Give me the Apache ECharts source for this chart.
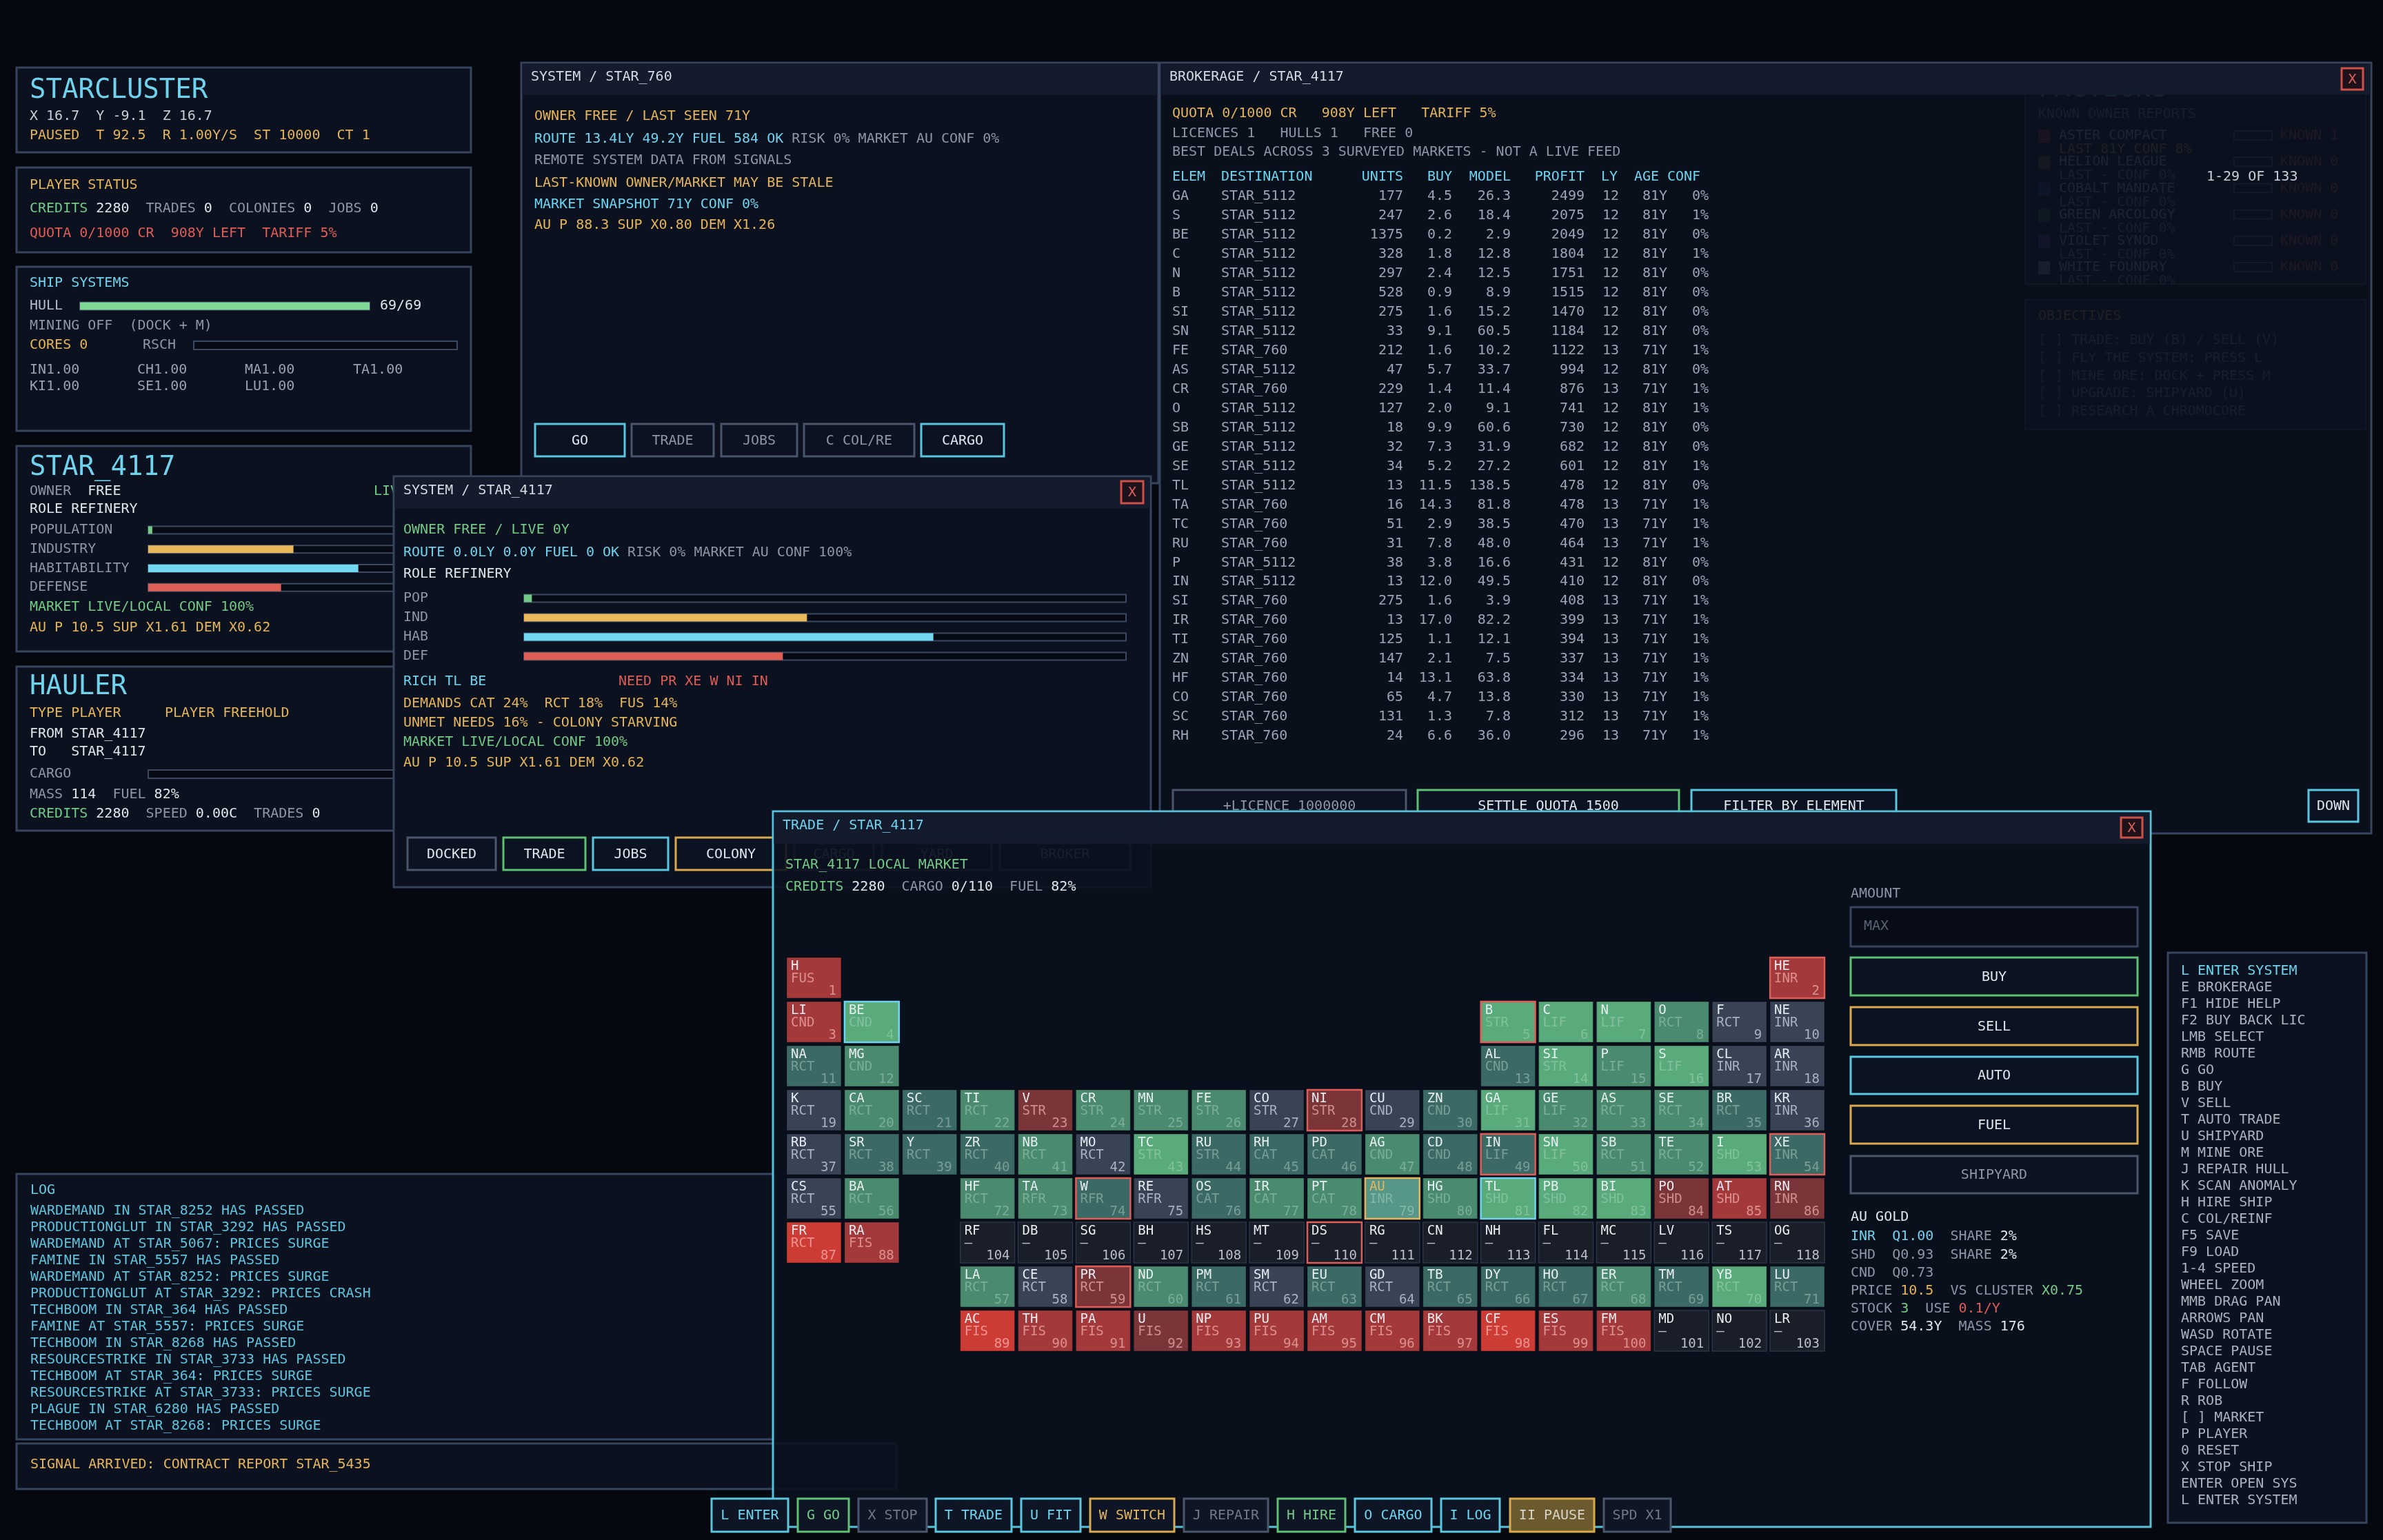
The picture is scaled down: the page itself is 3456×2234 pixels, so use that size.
<!DOCTYPE html>
<html>
<head>
<meta charset="utf-8">
<script src="https://cdn.jsdelivr.net/npm/echarts/dist/echarts.min.js"></script>
<style>
html,body{margin:0;padding:0;background:#05080f;overflow:hidden}
#chart{width:3456px;height:2234px}
</style>
</head>
<body>
<div id="chart"></div>
<script>
// ================= DATA =================
const hullValue = [69];
const hullMax = 69;
const researchValue = [0];
const statLabels = ['POPULATION', 'INDUSTRY', 'HABITABILITY', 'DEFENSE'];
const statShort = ['POP', 'IND', 'HAB', 'DEF'];
const statValues = [0.013, 0.47, 0.68, 0.43];
const cargoValue = [0];
const cargoMax = 110;
const shipMods = [['IN', 1.00], ['CH', 1.00], ['MA', 1.00], ['TA', 1.00], ['KI', 1.00], ['SE', 1.00], ['LU', 1.00]];

const brokerElem = ['GA','S','BE','C','N','B','SI','SN','FE','AS','CR','O','SB','GE','SE','TL','TA','TC','RU','P','IN','SI','IR','TI','ZN','HF','CO','SC','RH'];
const brokerDest = ['STAR_5112','STAR_5112','STAR_5112','STAR_5112','STAR_5112','STAR_5112','STAR_5112','STAR_5112','STAR_760','STAR_5112','STAR_760','STAR_5112','STAR_5112','STAR_5112','STAR_5112','STAR_5112','STAR_760','STAR_760','STAR_760','STAR_5112','STAR_5112','STAR_760','STAR_760','STAR_760','STAR_760','STAR_760','STAR_760','STAR_760','STAR_760'];
const brokerUnits = [177,247,1375,328,297,528,275,33,212,47,229,127,18,32,34,13,16,51,31,38,13,275,13,125,147,14,65,131,24];
const brokerBuy = [4.5,2.6,0.2,1.8,2.4,0.9,1.6,9.1,1.6,5.7,1.4,2.0,9.9,7.3,5.2,11.5,14.3,2.9,7.8,3.8,12.0,1.6,17.0,1.1,2.1,13.1,4.7,1.3,6.6];
const brokerModel = [26.3,18.4,2.9,12.8,12.5,8.9,15.2,60.5,10.2,33.7,11.4,9.1,60.6,31.9,27.2,138.5,81.8,38.5,48.0,16.6,49.5,3.9,82.2,12.1,7.5,63.8,13.8,7.8,36.0];
const brokerProfit = [2499,2075,2049,1804,1751,1515,1470,1184,1122,994,876,741,730,682,601,478,478,470,464,431,410,408,399,394,337,334,330,312,296];
const brokerLy = [12,12,12,12,12,12,12,12,13,12,13,12,12,12,12,12,13,13,13,12,12,13,13,13,13,13,13,13,13];
const brokerAge = [81,81,81,81,81,81,81,81,71,81,71,81,81,81,81,81,71,71,71,81,81,71,71,71,71,71,71,71,71];
const brokerConf = [0,1,0,1,0,0,0,0,1,0,1,1,0,0,1,0,1,1,1,0,0,1,1,1,1,1,1,1,1];
const brokerHeader = ['ELEM','DESTINATION','UNITS','BUY','MODEL','PROFIT','LY','AGE','CONF'];

const logLines = [
  'WARDEMAND IN STAR_8252 HAS PASSED',
  'PRODUCTIONGLUT IN STAR_3292 HAS PASSED',
  'WARDEMAND AT STAR_5067: PRICES SURGE',
  'FAMINE IN STAR_5557 HAS PASSED',
  'WARDEMAND AT STAR_8252: PRICES SURGE',
  'PRODUCTIONGLUT AT STAR_3292: PRICES CRASH',
  'TECHBOOM IN STAR_364 HAS PASSED',
  'FAMINE AT STAR_5557: PRICES SURGE',
  'TECHBOOM IN STAR_8268 HAS PASSED',
  'RESOURCESTRIKE IN STAR_3733 HAS PASSED',
  'TECHBOOM AT STAR_364: PRICES SURGE',
  'RESOURCESTRIKE AT STAR_3733: PRICES SURGE',
  'PLAGUE IN STAR_6280 HAS PASSED',
  'TECHBOOM AT STAR_8268: PRICES SURGE'
];

const helpLines = ['L ENTER SYSTEM','E BROKERAGE','F1 HIDE HELP','F2 BUY BACK LIC','LMB SELECT','RMB ROUTE','G GO','B BUY','V SELL','T AUTO TRADE','U SHIPYARD','M MINE ORE','J REPAIR HULL','K SCAN ANOMALY','H HIRE SHIP','C COL/REINF','F5 SAVE','F9 LOAD','1-4 SPEED','WHEEL ZOOM','MMB DRAG PAN','ARROWS PAN','WASD ROTATE','SPACE PAUSE','TAB AGENT','F FOLLOW','R ROB','[ ] MARKET','P PLAYER','0 RESET','X STOP SHIP','ENTER OPEN SYS','L ENTER SYSTEM'];

const factionNames = ['ASTER COMPACT','HELION LEAGUE','COBALT MANDATE','GREEN ARCOLOGY','VIOLET SYNOD','WHITE FOUNDRY'];
const factionLast = ['LAST 81Y CONF 8%','LAST - CONF 0%','LAST - CONF 0%','LAST - CONF 0%','LAST - CONF 0%','LAST - CONF 0%'];
const factionKnown = [1,0,0,0,0,0];
const objectives = ['TRADE: BUY (B) / SELL (V)','FLY THE SYSTEM: PRESS L','MINE ORE: DOCK + PRESS M','UPGRADE: SHIPYARD (U)','RESEARCH A CHROMOCORE'];

// periodic market grid: [symbol, role, atomic number, row, column, market tone (-3..3, null = no market)]
const elements = [
  ['H','FUS',1,1,1,-2], ['HE','INR',2,1,18,-2],
  ['LI','CND',3,2,1,-2], ['BE','CND',4,2,2,3], ['B','STR',5,2,13,3], ['C','LIF',6,2,14,3], ['N','LIF',7,2,15,3], ['O','RCT',8,2,16,2], ['F','RCT',9,2,17,0], ['NE','INR',10,2,18,0],
  ['NA','RCT',11,3,1,1], ['MG','CND',12,3,2,2], ['AL','CND',13,3,13,1], ['SI','STR',14,3,14,3], ['P','LIF',15,3,15,2], ['S','LIF',16,3,16,3], ['CL','INR',17,3,17,0], ['AR','INR',18,3,18,0],
  ['K','RCT',19,4,1,0], ['CA','RCT',20,4,2,2], ['SC','RCT',21,4,3,1], ['TI','RCT',22,4,4,2], ['V','STR',23,4,5,-1], ['CR','STR',24,4,6,2], ['MN','STR',25,4,7,2], ['FE','STR',26,4,8,2], ['CO','STR',27,4,9,0], ['NI','STR',28,4,10,-1], ['CU','CND',29,4,11,0], ['ZN','CND',30,4,12,1], ['GA','LIF',31,4,13,3], ['GE','LIF',32,4,14,2], ['AS','RCT',33,4,15,2], ['SE','RCT',34,4,16,2], ['BR','RCT',35,4,17,1], ['KR','INR',36,4,18,0],
  ['RB','RCT',37,5,1,0], ['SR','RCT',38,5,2,1], ['Y','RCT',39,5,3,1], ['ZR','RCT',40,5,4,1], ['NB','RCT',41,5,5,2], ['MO','RCT',42,5,6,0], ['TC','STR',43,5,7,3], ['RU','STR',44,5,8,1], ['RH','CAT',45,5,9,1], ['PD','CAT',46,5,10,1], ['AG','CND',47,5,11,2], ['CD','CND',48,5,12,1], ['IN','LIF',49,5,13,1], ['SN','LIF',50,5,14,3], ['SB','RCT',51,5,15,2], ['TE','RCT',52,5,16,2], ['I','SHD',53,5,17,3], ['XE','INR',54,5,18,1],
  ['CS','RCT',55,6,1,0], ['BA','RCT',56,6,2,2], ['HF','RCT',72,6,4,2], ['TA','RFR',73,6,5,2], ['W','RFR',74,6,6,1], ['RE','RFR',75,6,7,0], ['OS','CAT',76,6,8,1], ['IR','CAT',77,6,9,2], ['PT','CAT',78,6,10,2], ['AU','INR',79,6,11,2], ['HG','SHD',80,6,12,2], ['TL','SHD',81,6,13,3], ['PB','SHD',82,6,14,3], ['BI','SHD',83,6,15,3], ['PO','SHD',84,6,16,-1], ['AT','SHD',85,6,17,-2], ['RN','INR',86,6,18,-1],
  ['FR','RCT',87,7,1,-3], ['RA','FIS',88,7,2,-2], ['RF','—',104,7,4,null], ['DB','—',105,7,5,null], ['SG','—',106,7,6,null], ['BH','—',107,7,7,null], ['HS','—',108,7,8,null], ['MT','—',109,7,9,null], ['DS','—',110,7,10,null], ['RG','—',111,7,11,null], ['CN','—',112,7,12,null], ['NH','—',113,7,13,null], ['FL','—',114,7,14,null], ['MC','—',115,7,15,null], ['LV','—',116,7,16,null], ['TS','—',117,7,17,null], ['OG','—',118,7,18,null],
  ['LA','RCT',57,8,4,2], ['CE','RCT',58,8,5,0], ['PR','RCT',59,8,6,-1], ['ND','RCT',60,8,7,2], ['PM','RCT',61,8,8,1], ['SM','RCT',62,8,9,0], ['EU','RCT',63,8,10,1], ['GD','RCT',64,8,11,0], ['TB','RCT',65,8,12,1], ['DY','RCT',66,8,13,1], ['HO','RCT',67,8,14,1], ['ER','RCT',68,8,15,2], ['TM','RCT',69,8,16,1], ['YB','RCT',70,8,17,3], ['LU','RCT',71,8,18,1],
  ['AC','FIS',89,9,4,-3], ['TH','FIS',90,9,5,-2], ['PA','FIS',91,9,6,-2], ['U','FIS',92,9,7,-1], ['NP','FIS',93,9,8,-2], ['PU','FIS',94,9,9,-2], ['AM','FIS',95,9,10,-2], ['CM','FIS',96,9,11,-2], ['BK','FIS',97,9,12,-2], ['CF','FIS',98,9,13,-3], ['ES','FIS',99,9,14,-2], ['FM','FIS',100,9,15,-2], ['MD','—',101,9,16,null], ['NO','—',102,9,17,null], ['LR','—',103,9,18,null]
];
const richElements = ['TL', 'BE'];
const needElements = ['PR', 'XE', 'W', 'NI', 'IN'];
const alertElements = ['B', 'DS', 'HE'];
const focusElement = 'AU';

const systemButtons = ['DOCKED','TRADE','JOBS','COLONY','CARGO','YARD','BROKER'];
const remoteButtons = ['GO','TRADE','JOBS','C COL/RE','CARGO'];
const dockBar = ['L ENTER','G GO','X STOP','T TRADE','U FIT','W SWITCH','J REPAIR','H HIRE','O CARGO','I LOG','II PAUSE','SPD X1'];

// ================= STYLE / LAYOUT =================
const FONT = '"DejaVu Sans Mono", "Liberation Mono", monospace';
const C = {
  panel: '#0b111e', border: '#36445e', bar: '#131b2c',
  cyan: '#6fd3ee', gold: '#e4b45c', green: '#74c987', red: '#e05c56',
  gray: '#8d96a5', light: '#b4bcc8', white: '#e0e5eb', dim: '#5a6373', soft: '#c9ced6'
};
const G = [];
function rect(x, y, w, h, fill, stroke, lw, z) {
  G.push({type: 'rect', z: z, silent: true, shape: {x: x, y: y, width: w, height: h},
    style: {fill: fill || 'transparent', stroke: stroke || 'transparent', lineWidth: lw || 0}});
}
function label(x, y, str, color, size, z, align) {
  G.push({type: 'text', z: z, silent: true, x: x, y: y,
    style: {text: str, fill: color, font: (size || 20) + 'px ' + FONT,
      textAlign: align || 'left', textVerticalAlign: 'middle', align: align || 'left', verticalAlign: 'middle'}});
}
function multi(x, y, parts, z, size) {
  let s = '';
  const r = {};
  parts.forEach(function (p, i) {
    s += '{k' + i + '|' + p[0] + '}';
    r['k' + i] = {fill: p[1], font: (size || 20) + 'px ' + FONT};
  });
  G.push({type: 'text', z: z, silent: true, x: x, y: y,
    style: {text: s, rich: r, font: (size || 20) + 'px ' + FONT, textAlign: 'left', align: 'left',
      textVerticalAlign: 'middle', verticalAlign: 'middle'}});
}
function button(x1, y1, x2, y2, str, border, color, z, fill) {
  rect(x1, y1, x2 - x1, y2 - y1, fill || '#0b1221', border, 3, z);
  label((x1 + x2) / 2, (y1 + y2) / 2 + 1, str, color, 20, z + 1, 'center');
}
function closeBox(x1, y1, x2, y2, z) {
  rect(x1, y1, x2 - x1, y2 - y1, '#1d1219', '#cf4f49', 3, z);
  label((x1 + x2) / 2, (y1 + y2) / 2 + 1, 'X', '#e0605a', 20, z + 1, 'center');
}
function panel(x, y, w, h, z, o) {
  o = o || {};
  rect(x, y, w, h, o.fill || C.panel, o.stroke || C.border, 3, z);
  if (o.title) {
    rect(x + 1.5, y + 1.5, w - 3, o.tb || 45, o.tbFill || C.bar, null, 0, z + 0.5);
    label(x + 14, y + 21, o.title, o.titleColor || '#d4dae2', 20, z + 1);
  }
}

// ---------- left column ----------
panel(24, 98, 659, 123, 1);
label(43, 132, 'STARCLUSTER', C.cyan, 39, 2);
label(43, 169, 'X 16.7  Y -9.1  Z 16.7', C.soft, 20, 2);
label(43, 197, 'PAUSED  T 92.5  R 1.00Y/S  ST 10000  CT 1', C.gold, 20, 2);

panel(24, 243, 659, 123, 1);
label(43, 269, 'PLAYER STATUS', C.gold, 20, 2);
multi(43, 303, [['CREDITS', C.green], [' 2280', C.white], ['  TRADES ', C.gray], ['0', C.white], ['  COLONIES ', C.gray], ['0', C.white], ['  JOBS ', C.gray], ['0', C.white]], 2);
label(43, 339, 'QUOTA 0/1000 CR  908Y LEFT  TARIFF 5%', C.red, 20, 2);

panel(24, 387, 659, 238, 1);
label(43, 411, 'SHIP SYSTEMS', C.cyan, 20, 2);
label(43, 444, 'HULL', C.light, 20, 2);
label(551, 444, hullValue[0] + '/' + hullMax, C.white, 20, 2);
label(43, 473, 'MINING OFF  (DOCK + M)', C.gray, 20, 2);
label(43, 501, 'CORES 0', C.gold, 20, 2);
label(207, 501, 'RSCH', C.gray, 20, 2);
const modX = [43, 199, 355, 512], modY = [537, 561];
shipMods.forEach(function (m, i) {
  label(modX[i % 4], modY[Math.floor(i / 4)], m[0] + m[1].toFixed(2), '#9aa2b0', 20, 2);
});

panel(24, 647, 659, 298, 1);
label(43, 679, 'STAR_4117', C.cyan, 39, 2);
multi(43, 713, [['OWNER', C.gray], ['  FREE', C.white]], 2);
label(542, 713, 'LIVE/LOCAL', C.green, 20, 2);
label(43, 739, 'ROLE REFINERY', C.white, 20, 2);
statLabels.forEach(function (s, i) { label(43, 769 + i * 27.7, s, C.gray, 20, 2); });
label(43, 881, 'MARKET LIVE/LOCAL CONF 100%', C.green, 20, 2);
label(43, 911, 'AU P 10.5 SUP X1.61 DEM X0.62', C.gold, 20, 2);

panel(24, 967, 659, 238, 1);
label(43, 997, 'HAULER', C.cyan, 39, 2);
label(43, 1035, 'TYPE PLAYER', C.gold, 20, 2);
label(239, 1035, 'PLAYER FREEHOLD', C.gold, 20, 2);
label(43, 1065, 'FROM STAR_4117', C.white, 20, 2);
label(43, 1091, 'TO   STAR_4117', C.white, 20, 2);
label(43, 1123, 'CARGO', C.gray, 20, 2);
multi(43, 1153, [['MASS', C.gray], [' 114', C.white], ['  FUEL', C.gray], [' 82%', C.white]], 2);
multi(43, 1181, [['CREDITS', C.green], [' 2280', C.white], ['  SPEED', C.gray], [' 0.00C', C.white], ['  TRADES', C.gray], [' 0', C.white]], 2);

panel(24, 1703, 1100, 385, 1);
label(44, 1727, 'LOG', '#6cc8e0', 20, 2);
logLines.forEach(function (s, i) { label(44, 1757 + i * 24, s, '#5ec3dc', 20, 2); });
panel(24, 2094, 1276, 66, 1);
label(44, 2125, 'SIGNAL ARRIVED: CONTRACT REPORT STAR_5435', C.gold, 20, 2);

// ---------- remote system panel ----------
panel(756, 91, 924, 610, 1, {title: 'SYSTEM / STAR_760'});
label(775, 169, 'OWNER FREE / LAST SEEN 71Y', C.gold, 20, 2);
multi(775, 202, [['ROUTE 13.4LY 49.2Y FUEL 584 OK', C.cyan], [' RISK 0% MARKET AU CONF 0%', C.gray]], 2);
label(775, 233, 'REMOTE SYSTEM DATA FROM SIGNALS', C.gray, 20, 2);
label(775, 266, 'LAST-KNOWN OWNER/MARKET MAY BE STALE', C.gold, 20, 2);
label(775, 297, 'MARKET SNAPSHOT 71Y CONF 0%', C.cyan, 20, 2);
label(775, 327, 'AU P 88.3 SUP X0.80 DEM X1.26', C.gold, 20, 2);
const remoteLayout = [[776, 906, '#5bc6e0', C.white], [916, 1035, '#4a566c', C.gray], [1046, 1156, '#4a566c', C.gray], [1166, 1326, '#4a566c', C.gray], [1336, 1456, '#5bc6e0', C.white]];
remoteButtons.forEach(function (b, i) { const L = remoteLayout[i]; button(L[0], 615, L[1], 662, b, L[2], L[3], 2); });

// ---------- factions (under brokerage) ----------
rect(2937, 100, 494, 312, '#0e1423', C.border, 2, 1);
label(2956, 130, 'FACTIONS', C.cyan, 39, 2);
label(2956, 166, 'KNOWN OWNER REPORTS', C.gray, 20, 2);
const swatch = ['#a02838', '#7a6530', '#2a4c96', '#2d7a52', '#5c3a96', '#9aa0b0'];
factionNames.forEach(function (n, i) {
  const y = 197 + i * 38.2;
  rect(2956, y - 9, 17, 19, swatch[i], null, 0, 2);
  label(2986, y, n, C.soft, 20, 2);
  label(2986, y + 20, factionLast[i], i === 0 ? C.gold : C.gray, 20, 2);
  rect(3240, y - 7, 55, 13, 'transparent', '#6a7384', 2, 2);
  label(3307, y, 'KNOWN ' + factionKnown[i], C.red, 20, 2);
});
rect(2937, 435, 494, 188, '#0e1423', C.border, 2, 1);
label(2956, 459, 'OBJECTIVES', C.gold, 20, 2);
objectives.forEach(function (s, i) { label(2956, 494 + i * 25.7, '[ ] ' + s, C.gray, 20, 2); });

// ---------- brokerage ----------
panel(1682, 91, 1757, 1118, 3, {title: 'BROKERAGE / STAR_4117', fill: 'rgba(11,17,30,0.91)', tbFill: 'rgba(19,27,44,0.92)'});
closeBox(3396, 99, 3427, 130, 4);
label(1700, 165, 'QUOTA 0/1000 CR   908Y LEFT   TARIFF 5%', C.gold, 20, 4);
label(1700, 194, 'LICENCES 1   HULLS 1   FREE 0', C.gray, 20, 4);
label(1700, 221, 'BEST DEALS ACROSS 3 SURVEYED MARKETS - NOT A LIVE FEED', C.gray, 20, 4);
const headX = [[1700, 'left'], [1771, 'left'], [2035, 'right'], [2106, 'right'], [2191, 'right'], [2298, 'right'], [2322, 'left'], [2370, 'left'], [2418, 'left']];
brokerHeader.forEach(function (h, i) { label(headX[i][0], 257, h, C.cyan, 20, 4, headX[i][1]); });
label(3200, 257, '1-29 OF 133', C.soft, 20, 4);
button(1701, 1146, 2039, 1192, '+LICENCE 1000000', '#4a566c', C.gray, 4);
button(2056, 1146, 2435, 1192, 'SETTLE QUOTA 1500', '#5fbf72', C.white, 4);
button(2453, 1146, 2750, 1192, 'FILTER BY ELEMENT', '#5bc6e0', C.white, 4);
button(3348, 1146, 3420, 1192, 'DOWN', '#5bc6e0', C.white, 4);

// ---------- local system panel ----------
panel(571, 691, 1098, 596, 10, {title: 'SYSTEM / STAR_4117'});
closeBox(1626, 698, 1658, 730, 11);
label(585, 769, 'OWNER FREE / LIVE 0Y', C.green, 20, 11);
multi(585, 802, [['ROUTE 0.0LY 0.0Y FUEL 0 OK', C.cyan], [' RISK 0% MARKET AU CONF 100%', C.gray]], 11);
label(585, 833, 'ROLE REFINERY', C.white, 20, 11);
statShort.forEach(function (s, i) { label(585, 868 + i * 28, s, C.gray, 20, 11); });
label(585, 989, 'RICH ' + richElements.join(' '), C.cyan, 20, 11);
label(897, 989, 'NEED ' + needElements.join(' '), C.red, 20, 11);
label(585, 1021, 'DEMANDS CAT 24%  RCT 18%  FUS 14%', C.gold, 20, 11);
label(585, 1049, 'UNMET NEEDS 16% - COLONY STARVING', C.gold, 20, 11);
label(585, 1077, 'MARKET LIVE/LOCAL CONF 100%', C.green, 20, 11);
label(585, 1107, 'AU P 10.5 SUP X1.61 DEM X0.62', C.gold, 20, 11);
const sysLayout = [[591, 719, '#4a566c', C.white], [730, 849, '#5fbf72', C.white], [860, 969, '#5bc6e0', C.white], [980, 1140, '#d9a94e', C.white], [1152, 1267, '#4a566c', C.gray], [1279, 1438, '#4a566c', C.gray], [1450, 1639, '#4a566c', C.gray]];
systemButtons.forEach(function (b, i) { const L = sysLayout[i]; button(L[0], 1215, L[1], 1262, b, L[2], L[3], 11); });

// ---------- trade panel ----------
panel(1121, 1177, 1998, 1038, 20, {title: 'TRADE / STAR_4117', fill: 'rgba(11,17,30,0.9)', stroke: '#57c1da', tbFill: 'rgba(19,27,44,0.95)', titleColor: C.cyan, tb: 46});
closeBox(3076, 1186, 3107, 1215, 21);
label(1139, 1255, 'STAR_4117 LOCAL MARKET', C.green, 20, 21);
multi(1139, 1287, [['CREDITS', C.green], [' 2280', C.white], ['  CARGO', C.gray], [' 0/110', C.white], ['  FUEL', C.gray], [' 82%', C.white]], 21);
label(2684, 1297, 'AMOUNT', C.gray, 20, 21);
rect(2684, 1316, 416, 57, '#080c16', C.border, 3, 21);
label(2703, 1344, 'MAX', C.dim, 20, 22);
button(2684, 1389, 3100, 1444, 'BUY', '#5fbf72', C.white, 21);
button(2684, 1461, 3100, 1516, 'SELL', '#d9a94e', C.white, 21);
button(2684, 1533, 3100, 1587, 'AUTO', '#5bc6e0', C.white, 21);
button(2684, 1604, 3100, 1659, 'FUEL', '#d9a94e', C.white, 21);
button(2684, 1677, 3100, 1731, 'SHIPYARD', '#4a566c', C.gray, 21);
label(2684, 1766, 'AU GOLD', C.white, 20, 21);
multi(2684, 1794, [['INR  Q1.00', C.cyan], ['  SHARE ', C.gray], ['2%', C.white]], 21);
multi(2684, 1821, [['SHD  Q0.93', C.gray], ['  SHARE ', C.gray], ['2%', C.white]], 21);
multi(2684, 1847, [['CND  Q0.73', C.gray]], 21);
multi(2684, 1873, [['PRICE ', C.gray], ['10.5', C.gold], ['  VS CLUSTER ', C.gray], ['X0.75', C.green]], 21);
multi(2684, 1899, [['STOCK ', C.gray], ['3', C.green], ['  USE ', C.gray], ['0.1/Y', C.red]], 21);
multi(2684, 1925, [['COVER ', C.gray], ['54.3Y', C.white], ['  MASS ', C.gray], ['176', C.white]], 21);

// ---------- help ----------
rect(3144, 1382, 288, 827, C.panel, C.border, 3, 20);
helpLines.forEach(function (s, i) { label(3163, 1409 + i * 24, s, i === 0 ? C.cyan : '#aab2be', 20, 21); });

// ---------- dock bar ----------
const dockLayout = [[1032, 1143, 'c'], [1157, 1231, 'g'], [1245, 1344, 'o'], [1357, 1467, 'c'], [1481, 1567, 'c'], [1581, 1703, 'y'], [1717, 1839, 'o'], [1853, 1951, 'g'], [1965, 2076, 'c'], [2090, 2175, 'c'], [2190, 2312, 'p'], [2326, 2423, 'o']];
const dockStyle = {c: ['#5bc6e0', C.cyan, '#0e1626'], g: ['#5fbf72', C.green, '#0e1626'], o: ['#4a566c', '#6f7888', '#0e1626'], y: ['#d9a94e', C.gold, '#0e1626'], p: ['#d9a94e', '#d8d4c8', '#6b5a2d']};
dockBar.forEach(function (b, i) {
  const L = dockLayout[i], S = dockStyle[L[2]];
  button(L[0], 2174, L[1], 2222, b, S[0], S[1], 30, S[2]);
});

// ================= SERIES =================
const tonePalette = {'3': '#5aab7b', '2': '#4a8b6f', '1': '#3b6a66', '0': '#384356', '-1': '#7b3539', '-2': '#a3393a', '-3': '#cc3b34', 'none': '#191e29'};
const toneInk = {'3': 'rgba(220,245,230,0.30)', '2': 'rgba(220,245,230,0.32)', '1': 'rgba(215,240,232,0.38)', '0': '#a9b1be', '-1': 'rgba(255,195,195,0.62)', '-2': 'rgba(255,195,195,0.62)', '-3': 'rgba(255,200,200,0.62)', 'none': '#b9bfca'};
function flagOf(sym) {
  if (sym === focusElement) return 'focus';
  if (richElements.indexOf(sym) >= 0) return 'rich';
  if (needElements.indexOf(sym) >= 0 || alertElements.indexOf(sym) >= 0) return 'need';
  return null;
}
const flagStroke = {focus: '#e4b45c', rich: '#6fd3ee', need: '#e05c56'};

function periodicItem(params, api) {
  const e = elements[params.dataIndex];
  const p = api.coord([api.value(0), api.value(1)]);
  const s = api.size([1, 1]);
  const w = s[0] - 5, h = s[1] - 5;
  const x = p[0] - w / 2, y = p[1] - h / 2;
  const key = e[5] === null ? 'none' : String(e[5]);
  const flag = flagOf(e[0]);
  const fill = flag === 'focus' ? '#57978a' : tonePalette[key];
  const f = '19px ' + FONT;
  return {type: 'group', children: [
    {type: 'rect', shape: {x: x, y: y, width: w, height: h},
      style: {fill: fill, stroke: flag ? flagStroke[flag] : (key === 'none' ? '#2c3546' : 'rgba(0,0,0,0.22)'), lineWidth: flag ? 2.5 : 1.5}},
    {type: 'text', x: x + 6, y: y + 13, style: {text: e[0], fill: flag === 'focus' ? '#e4b45c' : '#e8edf2', font: f, textVerticalAlign: 'middle', verticalAlign: 'middle'}},
    {type: 'text', x: x + 6, y: y + 31, style: {text: e[1], fill: toneInk[key], font: f, textVerticalAlign: 'middle', verticalAlign: 'middle'}},
    {type: 'text', x: x + w - 7, y: y + 49, style: {text: String(e[2]), fill: toneInk[key], font: f, textAlign: 'right', align: 'right', textVerticalAlign: 'middle', verticalAlign: 'middle'}}
  ]};
}

const brokerCols = [[10, 'left'], [81, 'left'], [345, 'right'], [416, 'right'], [501, 'right'], [608, 'right'], [634, 'left'], [728, 'right'], [788, 'right']];
function brokerItem(params, api) {
  const i = api.value(1);
  const y = api.coord([0, i])[1];
  const x0 = params.coordSys.x;
  const vals = [brokerElem[i], brokerDest[i], String(brokerUnits[i]), brokerBuy[i].toFixed(1), brokerModel[i].toFixed(1), String(brokerProfit[i]), String(brokerLy[i]), brokerAge[i] + 'Y', brokerConf[i] + '%'];
  return {type: 'group', children: vals.map(function (v, k) {
    return {type: 'text', x: x0 + brokerCols[k][0], y: y, style: {text: v, fill: '#9ba4b3', font: '20px ' + FONT,
      textAlign: brokerCols[k][1], align: brokerCols[k][1], textVerticalAlign: 'middle', verticalAlign: 'middle'}};
  })};
}

function barSeries(gi, data, z, colors, barW) {
  return {type: 'bar', xAxisIndex: gi, yAxisIndex: gi, z: z, silent: true, barWidth: barW || 12,
    data: data.map(function (v, i) { return {value: v, itemStyle: {color: colors[i % colors.length]}}; }),
    showBackground: true, backgroundStyle: {color: '#060a12', borderColor: '#3b4862', borderWidth: 2}};
}
const statColors = ['#74c987', '#e8b85a', '#72d8f2', '#dd5f55'];

const grids = [
  {left: 1138.5, top: 1386.5, width: 1510, height: 576},   // 0 periodic
  {left: 116, top: 437, width: 420, height: 14},            // 1 hull
  {left: 281, top: 494, width: 382, height: 14},            // 2 research
  {left: 215, top: 755, width: 448, height: 111},           // 3 star stats
  {left: 215, top: 1116, width: 448, height: 14},           // 4 cargo
  {left: 760, top: 854, width: 873, height: 112},           // 5 system stats
  {left: 1690, top: 271, width: 800, height: 811}           // 6 brokerage rows
];
const xAxes = [
  {type: 'value', min: 0.5, max: 18.5},
  {type: 'value', min: 0, max: hullMax},
  {type: 'value', min: 0, max: 1},
  {type: 'value', min: 0, max: 1},
  {type: 'value', min: 0, max: cargoMax},
  {type: 'value', min: 0, max: 1},
  {type: 'value', min: 0, max: 1}
].map(function (a, i) { return Object.assign(a, {gridIndex: i, show: false}); });
const yAxes = [
  {type: 'value', min: 0.5, max: 9.5, inverse: true},
  {type: 'category', data: ['HULL']},
  {type: 'category', data: ['RSCH']},
  {type: 'category', data: statLabels, inverse: true},
  {type: 'category', data: ['CARGO']},
  {type: 'category', data: statShort, inverse: true},
  {type: 'value', min: -0.5, max: brokerElem.length - 0.5, inverse: true}
].map(function (a, i) { return Object.assign(a, {gridIndex: i, show: false}); });

const option = {
  backgroundColor: '#05080f',
  animation: false,
  graphic: {elements: G},
  grid: grids,
  xAxis: xAxes,
  yAxis: yAxes,
  series: [
    {type: 'custom', xAxisIndex: 0, yAxisIndex: 0, z: 21, silent: true, renderItem: periodicItem,
      encode: {x: 0, y: 1}, data: elements.map(function (e) { return [e[4], e[3]]; })},
    barSeries(1, hullValue, 3, ['#7dd993'], 11),
    barSeries(2, researchValue, 3, ['#7dd993'], 12),
    barSeries(3, statValues, 3, statColors, 11),
    barSeries(4, cargoValue, 3, ['#7dd993'], 12),
    barSeries(5, statValues, 11, statColors, 11),
    {type: 'custom', xAxisIndex: 6, yAxisIndex: 6, z: 4, silent: true, renderItem: brokerItem,
      encode: {x: 0, y: 1}, data: brokerElem.map(function (e, i) { return [0, i]; })}
  ]
};
const chart = echarts.init(document.getElementById('chart'), null, {width: 3456, height: 2234});
chart.setOption(option);
</script>
</body>
</html>
